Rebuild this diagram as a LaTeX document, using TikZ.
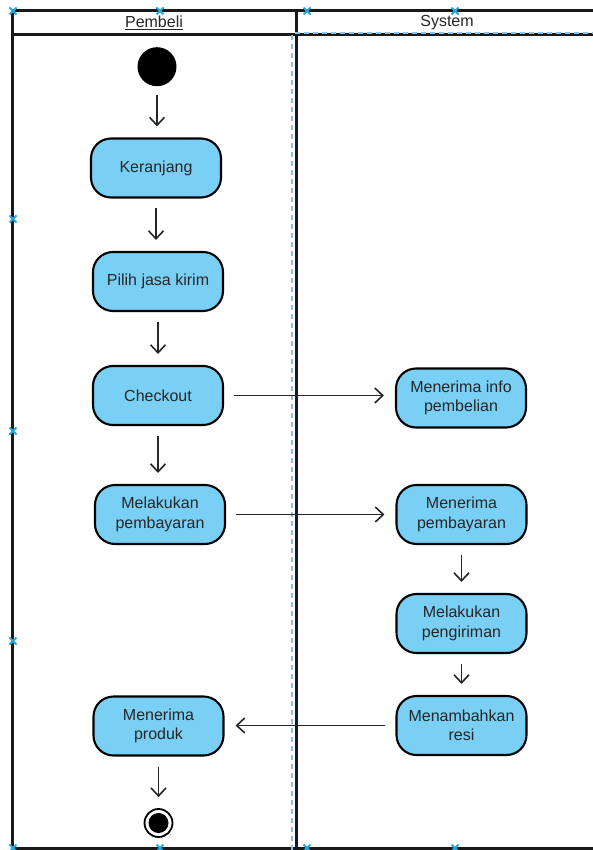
\documentclass[tikz,border=0pt]{standalone}
\usepackage{fontspec}
\setmainfont{Liberation Sans}
\usetikzlibrary{arrows.meta}
\definecolor{actfill}{RGB}{122,207,245}
\definecolor{selblue}{RGB}{41,168,224}
\definecolor{dashblue}{RGB}{140,190,240}
\begin{document}
\begin{tikzpicture}[x=1pt,y=-1pt,
  action/.style={draw=black, fill=actfill, line width=2.1pt, rounded corners=20pt,
    minimum width=130pt, minimum height=59pt, align=center, inner sep=2pt,
    font=\fontsize{16}{19.5}\selectfont, text=black!85},
  flow/.style={line width=1.6pt, draw=black!85,
    -{Straight Barb[length=8pt,width=15pt,line width=1.6pt]},
    shorten <=10pt, shorten >=11pt},
  lane/.style={line width=3pt, draw=black!90},
  lanetitle/.style={font=\fontsize{16}{19.5}\selectfont, text=black!85},
  selmark/.pic={\draw[selblue, line width=1.8pt] (-3.5,-3.5) -- (3.5,3.5) (-3.5,3.5) -- (3.5,-3.5);}
]
\useasboundingbox (0,0) rectangle (593,850);

% swimlane frame
\draw[lane] (12,11) -- (600,11);
\draw[lane] (12,35) -- (600,35);
\draw[lane] (12,848) -- (600,848);
\draw[lane] (12,11) -- (12,848);
\draw[lane] (296,11) -- (296,848);
\draw[dashblue, line width=2pt, dash pattern=on 5pt off 4pt] (292,850) -- (292,33.5) -- (600,33.5);

\node[lanetitle] (lanea) at (154,23) {\underline{Pembeli}};
\node[lanetitle] (laneb) at (447,23) {System};

% selection handles
\foreach \p in {(13,11),(160,11),(307,11),(455,11),
                (13,219),(13,431),(13,641),
                (13,848),(160,848),(307,848),(455,848)}
  \pic at \p {selmark};

% initial and final states
\node[circle, fill=black, minimum size=39pt, inner sep=0pt] (start) at (157,66.7) {};
\node[circle, draw=black, line width=1.8pt, fill=white, minimum size=28pt, inner sep=0pt,
  path picture={\fill[black] (path picture bounding box.center) circle (10pt);}] (finish) at (158.5,823) {};

% actions of the buyer
\node[action] (cart) at (156,168) {Keranjang};
\node[action] (courier) at (158,281.5) {Pilih jasa kirim};
\node[action] (checkout) at (158,395.5) {Checkout};
\node[action] (pay) at (160,514.5) {Melakukan\\pembayaran};
\node[action] (receive) at (158.5,726) {Menerima\\produk};

% actions of the system
\node[action] (info) at (461,398) {Menerima info\\pembelian};
\node[action] (payin) at (461.5,514.5) {Menerima\\pembayaran};
\node[action] (ship) at (461.5,623.5) {Melakukan\\pengiriman};
\node[action] (resi) at (461.5,725.5) {Menambahkan\\resi};

% control flow
\draw[flow, shorten <=9pt] (start.south) -- (start.south |- cart.north);
\draw[flow, shorten <=9pt] (cart.south) -- (cart.south |- courier.north);
\draw[flow] (courier.south) -- (courier.south |- checkout.north);
\draw[flow] (checkout.south) -- (checkout.south |- pay.north);
\draw[flow] (checkout.east) -- (checkout.east -| info.west);
\draw[flow] (pay.east) -- (pay.east -| payin.west);
\draw[flow] (payin.south) -- (payin.south |- ship.north);
\draw[flow] (ship.south) -- (ship.south |- resi.north);
\draw[flow] (resi.west) -- (resi.west -| receive.east);
\draw[flow] (receive.south) -- (receive.south |- finish.north);
\end{tikzpicture}
\end{document}
